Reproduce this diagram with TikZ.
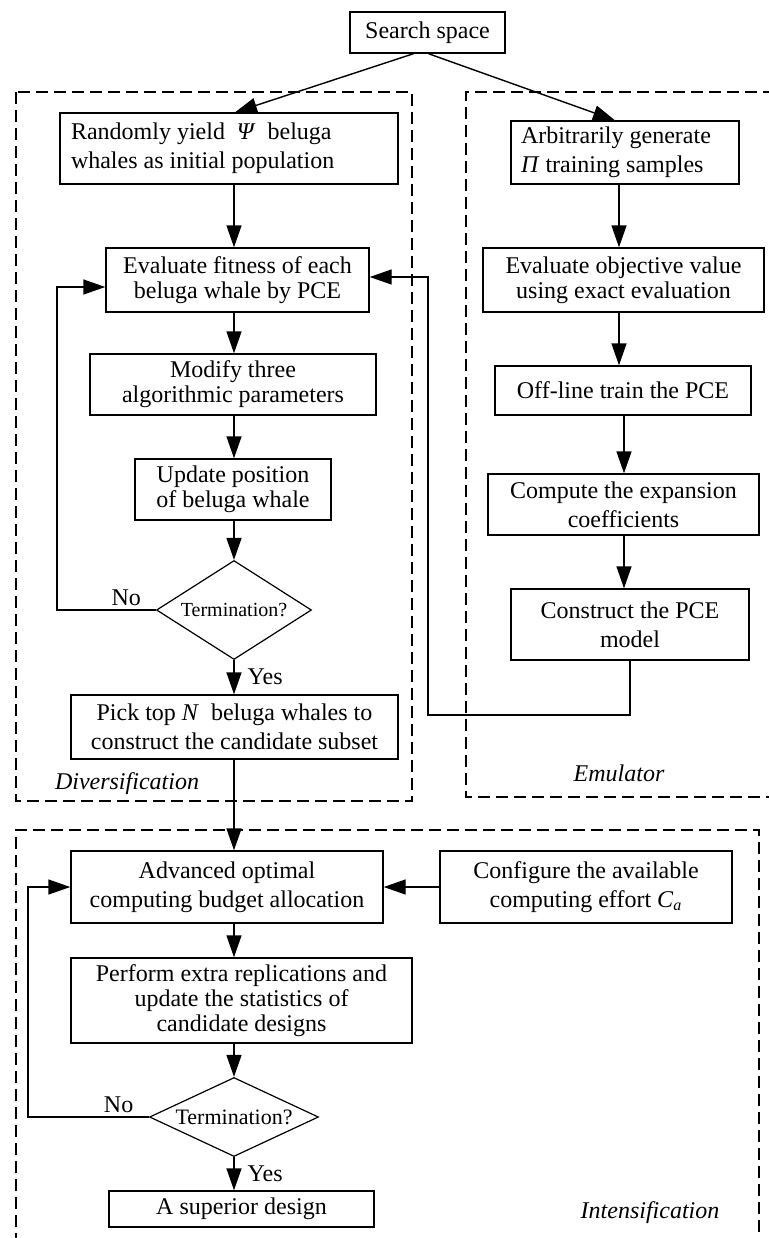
\documentclass[tikz,border=0pt]{standalone}
\usepackage{fontspec}
\setmainfont{Liberation Serif}
\usetikzlibrary{arrows.meta,shapes.geometric,positioning}

\begin{document}
\begin{tikzpicture}[x=0.5pt,y=-0.5pt,
  box/.style={draw, line width=0.7pt, align=center, inner sep=2pt,
    font=\fontsize{12}{12.5}\selectfont},
  loose/.style={font=\fontsize{12}{14.5}\selectfont},
  test/.style={draw, diamond, inner sep=0pt, line width=0.6pt},
  flow/.style={line width=0.7pt, -{Triangle[length=11pt,width=7.5pt]}},
  region/.style={line width=0.75pt, dash pattern=on 6pt off 3pt},
  lab/.style={inner sep=2pt, font=\fontsize{12}{14}\selectfont},
  tag/.style={font=\fontsize{12}{14}\selectfont\itshape}]

\useasboundingbox (0,0) rectangle (769,1238);

% Riquadri tratteggiati
\draw[region] (16,92) rectangle (412,801);
\draw[region] (775,92) -- (466,92) -- (466,797) -- (775,797);
\draw[region] (16,1245) -- (16,830) -- (759,830) -- (759,1245);

% Colonne delle frecce verticali
\coordinate (col) at (234,0);
\coordinate (rcol) at (619,0);
\coordinate (rcol2) at (624,0);

% Partenza
\node[box, minimum width=77.5pt, minimum height=20.5pt] (space) at (427.5,32.5) {Search space};

% Diversificazione
\node[box, loose, align=flush left, inner xsep=5.5pt, text width=158pt, minimum height=35.5pt] (init) at (229,148.5)
  {Randomly yield \ \textit{Ψ} \ beluga\\whales as initial population};
\node[box, minimum width=131.5pt, minimum height=32pt] (fit) at (237.5,280)
  {Evaluate fitness of each\\beluga whale by PCE};
\node[box, minimum width=143pt, minimum height=30.5pt] (param) at (233,384.5)
  {Modify three\\algorithmic parameters};
\node[box, minimum width=98pt, minimum height=30.5pt] (update) at (233,489.5)
  {Update position\\of beluga whale};
\node[test, aspect=1.6, minimum width=77.5pt, minimum height=49.5pt, font=\fontsize{10}{11}\selectfont] (term1) at (234,610)
  {Termination?};
\node[box, loose, minimum width=163.5pt, minimum height=32pt] (pick) at (234.5,727)
  {Pick top \textit{N} \ beluga whales to\\construct the candidate subset};

% Emulatore
\node[box, loose, align=flush left, inner xsep=5pt, text width=104pt, minimum height=31.5pt] (train) at (625,152.5)
  {Arbitrarily generate\\\textit{Π} training samples};
\node[box, minimum width=140.5pt, minimum height=32pt] (exact) at (623.5,280)
  {Evaluate objective value\\using exact evaluation};
\node[box, minimum width=128pt, minimum height=24.5pt] (offline) at (623,390.5)
  {Off-line train the PCE};
\node[box, loose, minimum width=135.5pt, minimum height=30.5pt] (coef) at (623.5,504.5)
  {Compute the expansion\\coefficients};
\node[box, loose, minimum width=119pt, minimum height=35.5pt] (pce) at (630,624.5)
  {Construct the PCE\\model};

% Intensificazione
\node[box, loose, minimum width=156pt, minimum height=36pt] (alloc) at (227,887)
  {Advanced optimal\\computing budget allocation};
\node[box, loose, minimum width=146pt, minimum height=36pt] (effort) at (586,887)
  {Configure the available\\computing effort \textit{C}\textsubscript{\textit{a}}};
\node[box, minimum width=170.5pt, minimum height=42.5pt] (extra) at (241.5,1000.5)
  {Perform extra replications and\\update the statistics of\\candidate designs};
\node[test, aspect=2.1, minimum width=84.5pt, minimum height=39.5pt, font=\fontsize{11}{12}\selectfont] (term2) at (234,1117)
  {Termination?};
\node[box, minimum width=132.5pt, minimum height=18pt] (best) at (241.5,1209)
  {A superior design};

% Etichette dei riquadri
\node[tag] (divlab) at (127,784) {Diversification};
\node[tag] (emulab) at (619,773) {Emulator};
\node[tag] (intlab) at (650,1213) {Intensification};

% Frecce
\draw[flow] ([xshift=-7pt]space.south) -- ([xshift=3pt]init.north);
\draw[flow] ([xshift=0.5pt]space.south) -- ([xshift=-5pt]train.north);

\draw[flow] (init.south -| col) -- (fit.north -| col);
\draw[flow] (fit.south -| col) -- (param.north -| col);
\draw[flow] (param.south -| col) -- (update.north -| col);
\draw[flow] (update.south -| col) -- (term1.north);
\draw[flow] (term1.south) -- node[lab, right, xshift=4.5pt] {Yes} (pick.north -| col);
\draw[flow] (term1.west) -- node[lab, pos=0.3, above] {No} ++(-99,0) |- ([yshift=-3.5pt]fit.west);

\draw[flow] (train.south -| rcol) -- (exact.north -| rcol);
\draw[flow] (exact.south -| rcol) -- (offline.north -| rcol);
\draw[flow] (offline.south -| rcol2) -- (coef.north -| rcol2);
\draw[flow] (coef.south -| rcol2) -- (pce.north -| rcol2);

% Ritorno del modello PCE
\coordinate (back) at (428,715);
\draw[flow] (pce.south) |- (back) |- ([yshift=1.5pt]fit.east);

\draw[flow] (pick.south -| col) -- (alloc.north -| col);
\draw[flow] (effort.west) -- (alloc.east);
\draw[flow] (alloc.south -| col) -- (extra.north -| col);
\draw[flow] (extra.south -| col) -- (term2.north);
\draw[flow] (term2.south) -- node[lab, right, xshift=4.5pt] {Yes} (best.north -| col);
\draw[flow] (term2.west) -- node[lab, pos=0.25, above] {No} ++(-121,0) |- (alloc.west);

\end{tikzpicture}
\end{document}
